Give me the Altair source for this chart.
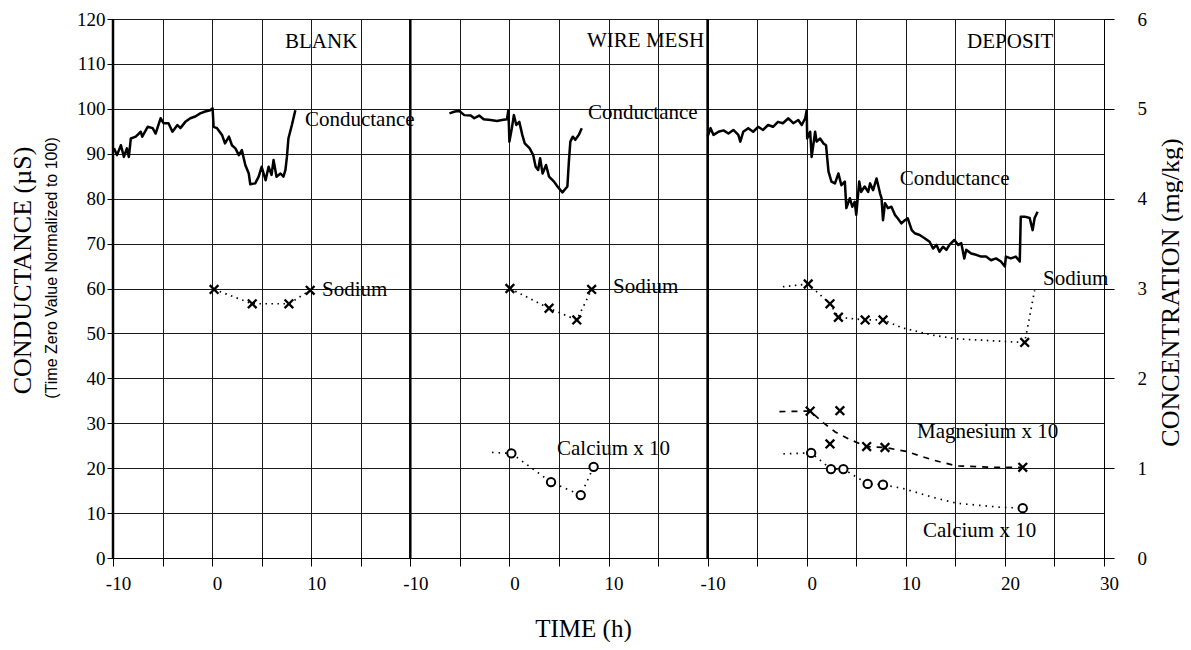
import altair as alt
import pandas as pd

# ---------------- data ----------------
panel_names = ["BLANK", "WIRE MESH", "DEPOSIT"]
panel_offset = {"BLANK": 10, "WIRE MESH": 40, "DEPOSIT": 70}  # start of each panel on the shared strip

# Conductance (time zero value normalised to 100)
blank_cond_t = [-9.9, -9.6, -9.2, -8.9, -8.6, -8.4, -8.2, -7.7, -7.2, -7.05, -6.5, -6.0, -5.7, -5.2, -4.9,
                -4.4, -4.0, -3.5, -3.2, -2.7, -2.2, -1.7, -1.2, -0.7, -0.2, 0.05, 0.15, 0.5, 1.0, 1.3, 1.7,
                2.0, 2.35, 2.7, 3.0, 3.35, 3.7, 3.85, 4.35, 4.7, 5.0, 5.4, 5.7, 6.0, 6.2, 6.5, 6.9, 7.2,
                7.4, 7.55, 7.7, 8.05, 8.4]
blank_cond_v = [91.2, 89.7, 91.9, 89.3, 91.2, 89.3, 93.4, 93.8, 94.9, 93.8, 96.0, 95.7, 94.5, 97.9, 96.8,
                96.8, 94.9, 96.4, 95.7, 97.1, 97.9, 98.3, 99.0, 99.4, 99.7, 100.1, 96.0, 95.7, 94.2, 92.3, 93.8,
                91.9, 91.2, 89.7, 90.8, 87.5, 85.6, 83.2, 83.4, 84.9, 87.1, 84.1, 87.1, 85.3, 88.6, 84.9, 85.6, 84.9,
                86.4, 89.3, 93.4, 96.4, 99.7]

mesh_cond_t = [-6.05, -5.5, -5.05, -4.55, -3.9, -3.55, -3.05, -2.6, -1.9, -1.25, -0.75, -0.25, -0.1, 0.0,
               0.25, 0.45, 0.7, 1.0, 1.3, 1.55, 2.05, 2.4, 2.65, 2.9, 3.1, 3.35, 3.7, 4.0, 4.5, 4.85, 5.35,
               5.85, 6.0, 6.15, 6.4, 6.65, 7.0, 7.3]
mesh_cond_v = [99.0, 99.4, 99.5, 98.6, 98.5, 97.9, 98.5, 97.7, 97.5, 97.3, 97.5, 97.7, 99.7, 92.7,
               95.7, 98.6, 96.4, 97.1, 94.2, 92.3, 91.2, 89.7, 87.1, 86.4, 89.0, 85.6, 87.5, 84.9, 83.8, 82.7, 81.4,
               82.7, 88.2, 92.7, 93.8, 93.1, 94.2, 95.7]

dep_cond_t = [-10.0, -9.7, -9.4, -8.9, -8.4, -7.9, -7.4, -6.9, -6.7, -6.4, -5.9, -5.4, -4.9, -4.4, -3.9,
              -3.4, -2.9, -2.4, -1.85, -1.35, -0.85, -0.5, -0.15, 0.0, 0.05, 0.35, 0.5, 0.85, 1.0, 1.35, 1.7,
              1.95, 2.2, 2.5, 2.85, 3.2, 3.5, 3.85, 4.0, 4.35, 4.6, 4.85, 5.0, 5.3, 5.5, 5.85, 6.2, 6.4, 6.7,
              7.05, 7.4, 7.55, 7.7, 7.9, 8.2, 8.55, 8.9, 9.2, 9.55, 9.9, 10.2, 10.6, 10.9, 11.4, 11.9, 12.4,
              12.75, 13.1, 13.4, 13.75, 14.1, 14.4, 14.9, 15.3, 15.6, 15.9, 16.1, 16.6, 17.1, 17.6, 18.1, 18.6,
              19.1, 19.6, 20.0, 20.1, 20.6, 21.1, 21.5, 21.6, 22.0, 22.5, 22.8, 23.0, 23.3]
dep_cond_v = [93.8, 95.7, 94.2, 94.9, 95.2, 94.5, 95.3, 94.2, 92.7, 94.9, 95.7, 94.9, 96.0, 95.3, 96.4,
              96.0, 97.1, 96.8, 97.9, 96.8, 97.5, 96.4, 97.9, 99.7, 93.4, 94.9, 89.3, 94.9, 92.7, 93.4, 92.3,
              91.9, 86.0, 83.8, 83.4, 85.6, 83.0, 83.8, 77.9, 80.1, 78.2, 79.3, 76.4, 83.8, 81.5, 82.7, 81.5, 83.4, 81.9,
              84.5, 81.2, 80.1, 75.2, 79.0, 77.9, 78.2, 76.4, 75.6, 74.5, 75.2, 75.6, 73.0, 72.3, 71.9, 71.2, 70.4,
              68.9, 69.7, 68.2, 69.3, 68.6, 69.7, 70.8, 69.7, 70.1, 66.7, 68.6, 67.8, 67.5, 67.1, 67.1, 66.3,
              66.7, 66.0, 64.9, 67.1, 66.7, 67.1, 66.0, 76.0, 76.0, 75.7, 73.0, 75.7, 77.1]

# Sodium (mg/kg)
blank_na_t = [0.2, 4.05, 7.75, 9.9]
blank_na_c = [2.99, 2.83, 2.83, 2.98]
mesh_na_t = [0.05, 4.0, 6.8, 8.3]
mesh_na_c = [3.0, 2.78, 2.65, 2.99]
dep_na_t = [0.15, 2.35, 3.2, 5.9, 7.7, 22.0]
dep_na_c = [3.05, 2.83, 2.68, 2.65, 2.65, 2.40]
dep_na_line_t = [-2.4, 0.15, 2.35, 3.2, 5.9, 7.7, 9.7, 12.75, 15.1, 20.1, 22.0, 23.0]
dep_na_line_c = [3.02, 3.05, 2.83, 2.68, 2.65, 2.65, 2.56, 2.48, 2.44, 2.41, 2.40, 2.98]

# Calcium x 10 (mg/kg)
mesh_ca_t = [0.2, 4.2, 7.2, 8.5]
mesh_ca_c = [1.165, 0.845, 0.70, 1.015]
mesh_ca_line_t = [-1.75, 0.2, 4.2, 7.2, 8.5]
mesh_ca_line_c = [1.175, 1.165, 0.845, 0.70, 1.015]
dep_ca_t = [0.45, 2.45, 3.7, 6.15, 7.7, 21.8]
dep_ca_c = [1.17, 0.99, 0.99, 0.825, 0.815, 0.555]
dep_ca_line_t = [-2.35, 0.45, 2.45, 3.7, 6.15, 7.7, 9.7, 12.75, 15.1, 19.5, 21.8]
dep_ca_line_c = [1.16, 1.17, 0.99, 0.99, 0.825, 0.815, 0.775, 0.675, 0.61, 0.565, 0.555]

# Magnesium x 10 (mg/kg)
dep_mg_t = [0.35, 2.35, 3.35, 6.05, 7.9, 21.8]
dep_mg_c = [1.635, 1.27, 1.64, 1.24, 1.23, 1.01]
dep_mg_line_t = [-2.75, 0.35, 1.7, 2.85, 4.35, 6.05, 7.9, 10.1, 12.75, 15.1, 18.8, 21.8]
dep_mg_line_c = [1.63, 1.635, 1.505, 1.405, 1.32, 1.24, 1.23, 1.185, 1.09, 1.025, 1.01, 1.01]

# Text annotations (panel, hours, conductance-scale height)
label_text = ["BLANK", "WIRE MESH", "DEPOSIT", "Conductance", "Conductance", "Conductance",
              "Sodium", "Sodium", "Sodium", "Calcium x 10", "Magnesium x 10", "Calcium x 10"]
label_panel = ["BLANK", "WIRE MESH", "DEPOSIT", "BLANK", "WIRE MESH", "DEPOSIT",
               "BLANK", "WIRE MESH", "DEPOSIT", "WIRE MESH", "DEPOSIT", "DEPOSIT"]
label_t = [7.36, 7.83, 16.18, 9.37, 7.93, 9.4, 11.09, 10.45, 23.85, 4.8, 11.13, 11.74]
label_v = [114.9, 115.1, 114.9, 97.5, 99.0, 84.4, 59.7, 60.3, 62.1, 24.3, 28.0, 6.0]

x_ticks = list(range(0, 101, 5))
y_ticks = list(range(0, 121, 10))
c_ticks = [0, 1, 2, 3, 4, 5, 6]
panel_edges = [0, 30, 60]


def frame(panel, t, vals, key):
    df = pd.DataFrame({"t": t, key: vals})
    df["panel"] = panel
    df["g"] = df["t"] + panel_offset[panel]
    return df


cond = pd.concat([frame("BLANK", blank_cond_t, blank_cond_v, "v"),
                  frame("WIRE MESH", mesh_cond_t, mesh_cond_v, "v"),
                  frame("DEPOSIT", dep_cond_t, dep_cond_v, "v")])

na_line = pd.concat([frame("BLANK", blank_na_t, blank_na_c, "c"),
                     frame("WIRE MESH", mesh_na_t, mesh_na_c, "c"),
                     frame("DEPOSIT", dep_na_line_t, dep_na_line_c, "c")])
ca_line = pd.concat([frame("WIRE MESH", mesh_ca_line_t, mesh_ca_line_c, "c"),
                     frame("DEPOSIT", dep_ca_line_t, dep_ca_line_c, "c")])
mg_line = frame("DEPOSIT", dep_mg_line_t, dep_mg_line_c, "c")

x_marks = pd.concat([frame("BLANK", blank_na_t, blank_na_c, "c"),
                     frame("WIRE MESH", mesh_na_t, mesh_na_c, "c"),
                     frame("DEPOSIT", dep_na_t, dep_na_c, "c"),
                     frame("DEPOSIT", dep_mg_t, dep_mg_c, "c")])
o_marks = pd.concat([frame("WIRE MESH", mesh_ca_t, mesh_ca_c, "c"),
                     frame("DEPOSIT", dep_ca_t, dep_ca_c, "c")])

labels = pd.DataFrame({"text": label_text, "panel": label_panel, "t": label_t, "v": label_v})
labels["g"] = labels["t"] + labels["panel"].map(panel_offset)

edges = pd.DataFrame({"g": panel_edges})

# ---------------- chart ----------------
SERIF = "Liberation Serif"

x_enc = alt.X("g:Q",
              scale=alt.Scale(domain=[0, 100], nice=False, zero=False),
              axis=alt.Axis(values=x_ticks, grid=True, tickSize=8, labelPadding=8, labelOffset=5,
                            labelExpr="datum.value % 10 === 0 ? '' + (datum.value < 30 ? datum.value - 10 : (datum.value < 60 ? datum.value - 40 : datum.value - 70)) : ''",
                            labelFlush=False, labelOverlap=False,
                            title="TIME (h)", titleFontSize=25, titleX=470, titleY=70,
                            titleBaseline="middle"))

y_left = alt.Y("v:Q",
               scale=alt.Scale(domain=[0, 120], nice=False),
               axis=alt.Axis(values=y_ticks, grid=True, tickSize=6, labelPadding=2,
                             title="CONDUCTANCE (µS)", titleFontSize=26, titleAngle=270,
                             titleX=-91, titleY=251, titleAlign="center", titleBaseline="middle"))

cond_line = alt.Chart(cond).mark_line(color="black", strokeWidth=2.5, strokeJoin="round").encode(
    x=x_enc, y=y_left, detail="panel:N")

edge_rules = alt.Chart(edges).mark_rule(color="black", strokeWidth=2.5).encode(x="g:Q")

label_marks = alt.Chart(labels).mark_text(font=SERIF, fontSize=21, align="left",
                                          baseline="middle", color="black").encode(
    x="g:Q", y="v:Q", text="text:N")

sub_df = pd.DataFrame({"s": ["(Time Zero Value Normalized to 100)"]})
subtitle = alt.Chart(sub_df).mark_text(font="Liberation Sans", fontSize=16, angle=270,
                                       align="center", baseline="middle", color="black").encode(
    x=alt.value(-61), y=alt.value(249), text="s:N")

left = alt.layer(cond_line, edge_rules, label_marks, subtitle)

y_right = alt.Y("c:Q",
                scale=alt.Scale(domain=[0, 6], nice=False),
                axis=alt.Axis(orient="right", values=c_ticks, format="d", grid=False, tickSize=10,
                              labelPadding=23,
                              title="CONCENTRATION (mg/kg)", titleFontSize=26, titleAngle=270,
                              titleX=66, titleY=273, titleAlign="center", titleBaseline="middle"))

na_marks = alt.Chart(na_line).mark_line(color="black", strokeWidth=1.7, strokeDash=[1.5, 4.5]).encode(
    x="g:Q", y=y_right, detail="panel:N")
ca_marks = alt.Chart(ca_line).mark_line(color="black", strokeWidth=1.7, strokeDash=[1.5, 5]).encode(
    x="g:Q", y="c:Q", detail="panel:N")
mg_marks = alt.Chart(mg_line).mark_line(color="black", strokeWidth=1.7, strokeDash=[6, 6]).encode(
    x="g:Q", y="c:Q")
x_pts = alt.Chart(x_marks).mark_point(shape="M-1,-1L1,1M-1,1L1,-1", size=75, filled=False,
                                      color="black", strokeWidth=2.3, opacity=1).encode(x="g:Q", y="c:Q")
o_pts = alt.Chart(o_marks).mark_point(shape="circle", size=70, filled=False, fill="white",
                                      color="black", strokeWidth=2, opacity=1).encode(x="g:Q", y="c:Q")

right = alt.layer(na_marks, ca_marks, mg_marks, x_pts, o_pts)

chart = alt.layer(left, right).resolve_scale(y="independent").properties(
    width=991, height=539,
    autosize=alt.AutoSizeParams(type="none"),
    padding={"left": 105, "top": 11, "right": 79, "bottom": 84},
    background="white",
).configure_view(stroke="black", strokeWidth=1).configure_axis(
    labelFont=SERIF, labelFontSize=19, labelColor="black",
    titleFont=SERIF, titleFontWeight="normal", titleColor="black",
    domainColor="black", tickColor="black", gridColor="#1a1a1a", gridWidth=1,
)

chart.save("out.html", embed_options={"renderer": "svg", "actions": False})
